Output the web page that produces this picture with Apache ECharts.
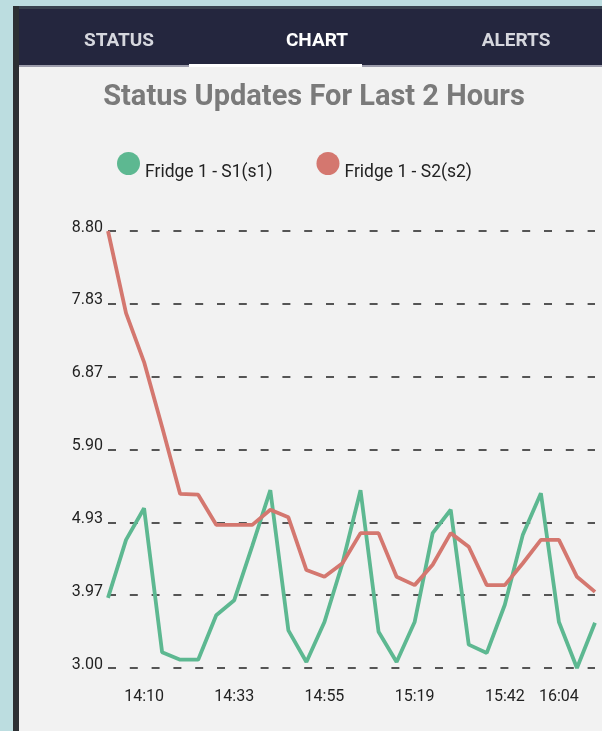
<!DOCTYPE html>
<html>
<head>
<meta charset="utf-8">
<script src="https://cdn.jsdelivr.net/npm/echarts@6/dist/echarts.min.js"></script>
<style>
html,body{margin:0;padding:0;background:#bcdde0;}
#c{width:602px;height:731px;}
</style>
</head>
<body>
<div id="c"></div>
<script>
// ---- data ----
const times = ['14:01','14:06','14:10','14:15','14:19','14:24','14:28','14:33','14:37','14:42',
  '14:46','14:51','14:55','15:00','15:05','15:10','15:14','15:19','15:24','15:28',
  '15:33','15:37','15:42','15:49','15:57','16:04','16:08','16:13'];
const shownTimeLabels = ['14:10','14:33','14:55','15:19','15:42','16:04'];
const s1Values = [3.93,4.70,5.12,3.21,3.11,3.11,3.70,3.90,4.62,5.36,
  3.50,3.08,3.61,4.39,5.36,3.48,3.08,3.61,4.79,5.10,
  3.31,3.20,3.84,4.77,5.32,3.61,3.00,3.60];
const s2Values = [8.80,7.71,7.06,6.20,5.31,5.30,4.90,4.90,4.90,5.10,
  5.00,4.30,4.21,4.39,4.79,4.79,4.21,4.10,4.37,4.79,
  4.61,4.10,4.10,4.39,4.70,4.70,4.21,4.01];
const yTicks = [3.0, 3.9667, 4.9333, 5.9, 6.8667, 7.8333, 8.8];
const seriesNames = ['Fridge 1 - S1(s1)','Fridge 1 - S2(s2)'];
const tabs = ['STATUS','CHART','ALERTS'];
const titleText = 'Status Updates For Last 2 Hours';

const FONT = 'Roboto, "Noto Sans", sans-serif';
const chart = echarts.init(document.getElementById('c'), null, {renderer:'canvas'});

chart.setOption({
  backgroundColor: '#bcdde0',
  animation: false,
  graphic: [
    {type:'rect', shape:{x:13,y:6,width:6,height:725}, style:{fill:'#2c2f33'}, z:0},
    {type:'rect', shape:{x:19,y:6,width:583,height:61}, style:{fill:'#24263e'}, z:0},
    {type:'rect', shape:{x:19,y:6,width:583,height:3}, style:{fill:'#38424f'}, z:0},
    {type:'rect', shape:{x:19,y:67,width:583,height:664}, style:{fill:'#f2f2f2'}, z:0},
    {type:'rect', shape:{x:19,y:65,width:583,height:2}, style:{fill:'#9c9cab'}, z:1},
    {type:'rect', shape:{x:189,y:64,width:173,height:3}, style:{fill:'#ffffff'}, z:2},
    {type:'text', x:119, y:41, style:{text:tabs[0], fill:'#d6d7de', font:'bold 19px '+FONT, textAlign:'center', textVerticalAlign:'middle'}, z:3},
    {type:'text', x:317, y:41, style:{text:tabs[1], fill:'#ffffff', font:'bold 19px '+FONT, textAlign:'center', textVerticalAlign:'middle'}, z:3},
    {type:'text', x:516, y:41, style:{text:tabs[2], fill:'#d6d7de', font:'bold 19px '+FONT, textAlign:'center', textVerticalAlign:'middle'}, z:3},
    {type:'text', x:314, y:98, style:{text:titleText, fill:'#7a7a7a', font:'bold 29px '+FONT, textAlign:'center', textVerticalAlign:'middle'}, z:3}
  ],
  legend: {
    left: 112, top: 147,
    icon: 'circle',
    itemWidth: 23, itemHeight: 23,
    itemGap: 44,
    data: seriesNames,
    formatter: name => '{t|' + name + '}',
    textStyle: {fontFamily: FONT, fontSize: 17.5, color:'#222',
      rich: {t: {fontFamily: FONT, fontSize: 17.5, color:'#222', padding:[19,0,0,0]}}}
  },
  grid: {left:108, right:7, top:231, bottom:63, containLabel:false},
  xAxis: {
    type:'category',
    data: times,
    boundaryGap:false,
    axisLine:{show:false},
    axisTick:{show:false},
    splitLine:{show:false},
    axisLabel:{
      interval: (i, v) => shownTimeLabels.indexOf(v) >= 0,
      fontFamily: FONT, fontSize: 16, color:'#222', margin: 21
    }
  },
  yAxis: {
    type:'value',
    min: yTicks[0], max: yTicks[yTicks.length-1],
    axisLine:{show:false},
    axisTick:{show:false, customValues: yTicks},
    splitLine:{show:true, lineStyle:{color:'#222', width:1.5, type:[8,13.8]}},
    axisLabel:{
      customValues: yTicks,
      formatter: v => v.toFixed(2),
      fontFamily: FONT, fontSize: 16, color:'#222', margin: 5,
      verticalAlign: 'bottom', lineHeight: 7
    }
  },
  series: [
    {name: seriesNames[0], type:'line', data: s1Values, symbol:'none', color:'#5db891',
     lineStyle:{width:3.8, color:'#5db891'}, itemStyle:{color:'#5db891'}},
    {name: seriesNames[1], type:'line', data: s2Values, symbol:'none', color:'#d4776f',
     lineStyle:{width:3.8, color:'#d4776f'}, itemStyle:{color:'#d4776f'}}
  ]
});
</script>
</body>
</html>
